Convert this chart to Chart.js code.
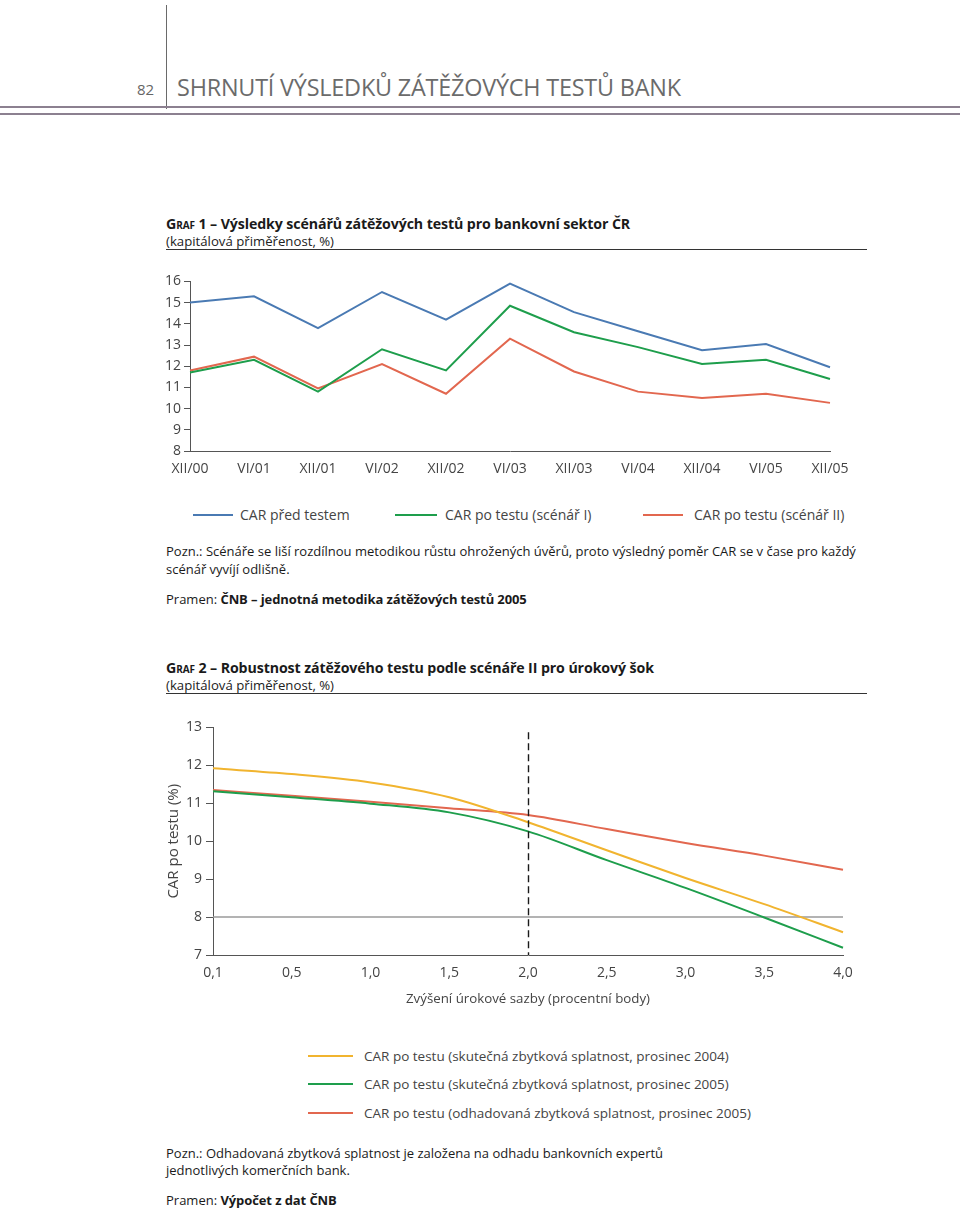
<!DOCTYPE html>
<html lang="cs">
<head>
<meta charset="utf-8">
<title>Zátěžové testy bank</title>
<script src="https://cdn.jsdelivr.net/npm/chart.js@4.4.1/dist/chart.umd.min.js"></script>
<style>
  html, body { margin: 0; padding: 0; background: #fff; }
  body { width: 960px; height: 1209px; position: relative; overflow: hidden; font-family: 'Open Sans', sans-serif; color: #222; }
  .abs { position: absolute; white-space: nowrap; }
  .pageno { left: 137px; top: 78px; font-size: 15px; line-height: 22px; color: #666; }
  .vline { left: 166px; top: 5px; width: 1px; height: 104px; background: #6a6a6a; }
  .headline { left: 177px; top: 70px; font-size: 23.4px; line-height: 34px; color: #6b6b6b; letter-spacing: -0.2px; }
  .hrule { left: 0; width: 960px; height: 2px; background: #8c8090; }
  .gtitle { left: 166px; font-size: 14.2px; line-height: 20px; font-weight: 700; color: #1a1a1a; letter-spacing: -0.1px; }
  .gtitle .sc { font-variant: small-caps; }
  .gsub { left: 166px; font-size: 13.2px; line-height: 18px; color: #222; }
  .rule { left: 166px; width: 701px; height: 1px; background: #333; }
  .chartbox { position: absolute; left: 140px; width: 730px; }
  .leg { font-size: 14px; line-height: 20px; color: #444; }
  .leg2 { font-size: 13.5px; line-height: 20px; color: #444; }
  .legline { position: absolute; height: 2px; }
  .note { left: 166px; font-size: 13px; line-height: 18px; color: #1a1a1a; }
  .note b { font-weight: 700; letter-spacing: -0.1px; }
</style>
</head>
<body>

<div class="abs pageno">82</div>
<div class="abs vline"></div>
<div class="abs headline">SHRNUTÍ VÝSLEDKŮ ZÁTĚŽOVÝCH TESTŮ BANK</div>
<div class="abs hrule" style="top:106px"></div>
<div class="abs hrule" style="top:113px"></div>

<!-- Graf 1 -->
<div class="abs gtitle" style="top:214px"><span class="sc">Graf</span> 1 – Výsledky scénářů zátěžových testů pro bankovní sektor ČR</div>
<div class="abs gsub" style="top:232px">(kapitálová přiměřenost, %)</div>
<div class="abs rule" style="top:249px"></div>

<div class="chartbox" style="top:270px; height:211px;"><canvas id="chart1"></canvas></div>

<div class="legline" style="left:193px; top:514px; width:40px; background:#4a7ab3;"></div>
<div class="abs leg" style="left:240px; top:505px;">CAR před testem</div>
<div class="legline" style="left:395px; top:514px; width:42px; background:#1e9e4c;"></div>
<div class="abs leg" style="left:445px; top:505px;">CAR po testu (scénář I)</div>
<div class="legline" style="left:643px; top:514px; width:40px; background:#e2674f;"></div>
<div class="abs leg" style="left:694px; top:505px;">CAR po testu (scénář II)</div>

<div class="abs note" style="top:542px">Pozn.: Scénáře se liší rozdílnou metodikou růstu ohrožených úvěrů, proto výsledný poměr CAR se v čase pro každý</div>
<div class="abs note" style="top:560px">scénář vyvíjí odlišně.</div>
<div class="abs note" style="top:590px">Pramen: <b>ČNB – jednotná metodika zátěžových testů 2005</b></div>

<!-- Graf 2 -->
<div class="abs gtitle" style="top:658px"><span class="sc">Graf</span> 2 – Robustnost zátěžového testu podle scénáře II pro úrokový šok</div>
<div class="abs gsub" style="top:676px">(kapitálová přiměřenost, %)</div>
<div class="abs rule" style="top:693px"></div>

<div class="chartbox" style="top:715px; height:300px;"><canvas id="chart2"></canvas></div>

<div class="legline" style="left:308px; top:1055px; width:45px; background:#f1b42f;"></div>
<div class="abs leg2" style="left:364px; top:1046px;">CAR po testu (skutečná zbytková splatnost, prosinec 2004)</div>
<div class="legline" style="left:308px; top:1083px; width:45px; background:#1e9e4c;"></div>
<div class="abs leg2" style="left:364px; top:1074px;">CAR po testu (skutečná zbytková splatnost, prosinec 2005)</div>
<div class="legline" style="left:308px; top:1112px; width:45px; background:#e2674f;"></div>
<div class="abs leg2" style="left:364px; top:1103px;">CAR po testu (odhadovaná zbytková splatnost, prosinec 2005)</div>

<div class="abs note" style="top:1144px">Pozn.: Odhadovaná zbytková splatnost je založena na odhadu bankovních expertů</div>
<div class="abs note" style="top:1161px">jednotlivých komerčních bank.</div>
<div class="abs note" style="top:1191px">Pramen: <b>Výpočet z dat ČNB</b></div>

<script>
// Graf 1 data
const periods = ['XII/00', 'VI/01', 'XII/01', 'VI/02', 'XII/02', 'VI/03', 'XII/03', 'VI/04', 'XII/04', 'VI/05', 'XII/05'];
const carBefore = [15.0, 15.3, 13.8, 15.5, 14.2, 15.9, 14.55, 13.65, 12.75, 13.05, 11.95];
const carScenarioI = [11.7, 12.3, 10.8, 12.8, 11.8, 14.85, 13.6, 12.9, 12.1, 12.3, 11.4];
const carScenarioII = [11.8, 12.45, 10.95, 12.1, 10.7, 13.3, 11.75, 10.8, 10.5, 10.7, 10.27];
const yMin1 = 8;
const yMax1 = 16;

// Graf 2 data
const rateShocks = ['0,1', '0,5', '1,0', '1,5', '2,0', '2,5', '3,0', '3,5', '4,0'];
const carDec2004 = [11.92, 11.77, 11.55, 11.16, 10.5, 9.76, 9.03, 8.34, 7.6];
const carDec2005 = [11.32, 11.16, 10.99, 10.76, 10.26, 9.5, 8.77, 7.99, 7.19];
const carDec2005Est = [11.35, 11.2, 11.04, 10.87, 10.69, 10.32, 9.95, 9.62, 9.25];
const minCar = 8;          // regulatorní minimum
const markerShock = '2,0'; // svislá přerušovaná čára
const markerTop = 12.87;
const yMin2 = 7;
const yMax2 = 13;

const axisColor = '#555';
const tickColor = '#444';

Chart.defaults.font.family = "'Open Sans', sans-serif";
Chart.defaults.color = tickColor;
Chart.defaults.animation = false;

const lineStyle = (color) => ({
  borderColor: color,
  backgroundColor: color,
  borderWidth: 2,
  pointRadius: 0,
  tension: 0,
  fill: false
});

// Chart 1
new Chart(document.getElementById('chart1'), {
  type: 'line',
  data: {
    labels: periods,
    datasets: [
      { label: 'CAR před testem', data: carBefore, ...lineStyle('#4a7ab3') },
      { label: 'CAR po testu (scénář I)', data: carScenarioI, ...lineStyle('#1e9e4c') },
      { label: 'CAR po testu (scénář II)', data: carScenarioII, ...lineStyle('#e2674f') }
    ]
  },
  options: {
    responsive: true,
    maintainAspectRatio: false,
    layout: { padding: { top: 11, right: 40, left: 0, bottom: 0 } },
    plugins: { legend: { display: false }, tooltip: { enabled: false } },
    scales: {
      x: {
        offset: false,
        grid: { display: true, drawOnChartArea: false, drawTicks: false },
        border: { display: true, color: axisColor, width: 1 },
        ticks: { padding: 10, maxRotation: 0, autoSkip: false, font: { size: 14 }, color: tickColor },
        afterFit: (scale) => { scale.height = 30; }
      },
      y: {
        min: yMin1,
        max: yMax1,
        grid: { display: true, drawOnChartArea: false, drawTicks: true, tickLength: 6, color: axisColor },
        border: { display: true, color: axisColor, width: 1 },
        ticks: { stepSize: 1, padding: 3, font: { size: 14 }, color: tickColor },
        afterFit: (scale) => { scale.width = 50; }
      }
    }
  }
});

// vertical dashed marker for chart 2
const markerLine = {
  id: 'markerLine',
  afterDatasetsDraw(chart) {
    const { ctx, scales: { x, y } } = chart;
    const px = Math.round(x.getPixelForValue(rateShocks.indexOf(markerShock))) + 0.5;
    ctx.save();
    ctx.strokeStyle = '#1a1a1a';
    ctx.lineWidth = 1.4;
    ctx.setLineDash([7, 4]);
    ctx.beginPath();
    ctx.moveTo(px, y.getPixelForValue(markerTop));
    ctx.lineTo(px, y.getPixelForValue(yMin2));
    ctx.stroke();
    ctx.restore();
  }
};

// Chart 2
new Chart(document.getElementById('chart2'), {
  type: 'line',
  data: {
    labels: rateShocks,
    datasets: [
      { label: 'CAR po testu (skutečná zbytková splatnost, prosinec 2004)', data: carDec2004, ...lineStyle('#f1b42f'), cubicInterpolationMode: 'monotone', order: 0 },
      { label: 'CAR po testu (skutečná zbytková splatnost, prosinec 2005)', data: carDec2005, ...lineStyle('#1e9e4c'), cubicInterpolationMode: 'monotone', order: 0 },
      { label: 'CAR po testu (odhadovaná zbytková splatnost, prosinec 2005)', data: carDec2005Est, ...lineStyle('#e2674f'), cubicInterpolationMode: 'monotone', order: 0 },
      { label: 'Minimum', data: rateShocks.map(() => minCar), ...lineStyle('#9a9a9a'), borderWidth: 1.5, order: 1 }
    ]
  },
  options: {
    responsive: true,
    maintainAspectRatio: false,
    layout: { padding: { top: 11, right: 27, left: 0, bottom: 0 } },
    plugins: { legend: { display: false }, tooltip: { enabled: false } },
    scales: {
      x: {
        offset: false,
        grid: { display: true, drawOnChartArea: false, drawTicks: false },
        border: { display: true, color: axisColor, width: 1 },
        ticks: { padding: 10, maxRotation: 0, autoSkip: false, font: { size: 14 }, color: tickColor },
        title: { display: true, text: 'Zvýšení úrokové sazby (procentní body)', font: { size: 13.3 }, color: tickColor, padding: { top: 0, bottom: 8 } },
        afterFit: (scale) => { scale.height = 60; }
      },
      y: {
        min: yMin2,
        max: yMax2,
        grid: { display: true, drawOnChartArea: false, drawTicks: true, tickLength: 7, color: axisColor },
        border: { display: true, color: axisColor, width: 1 },
        ticks: { stepSize: 1, padding: 4, font: { size: 14 }, color: tickColor },
        title: { display: true, text: 'CAR po testu (%)', font: { size: 15 }, color: tickColor, padding: { top: 25, bottom: 0 } },
        afterFit: (scale) => { scale.width = 73; }
      }
    }
  },
  plugins: [markerLine]
});
</script>
</body>
</html>
